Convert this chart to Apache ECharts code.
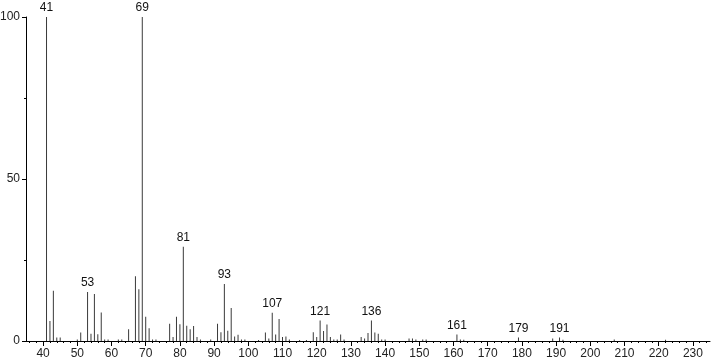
<!DOCTYPE html>
<html>
<head>
<meta charset="utf-8">
<script src="https://cdn.jsdelivr.net/npm/echarts@6/dist/echarts.min.js"></script>
<style>
html,body{margin:0;padding:0;background:#fff;}
#chart{width:711px;height:363px;}
</style>
</head>
<body>
<div id="chart"></div>
<script>
// m/z values and relative intensities
var mz = [41,42,43,44,45,50,51,53,54,55,56,57,58,59,62,63,65,67,68,69,70,71,72,73,77,78,79,80,81,82,83,84,85,86,89,
          91,92,93,94,95,96,97,98,99,103,105,106,107,108,109,110,111,112,115,117,119,120,121,122,123,124,125,126,127,128,
          133,134,135,136,137,138,139,140,147,148,149,151,152,161,162,163,179,189,191,192,207,222];
var intensity = [100,6.2,15.5,1.1,1.1,0.5,2.6,15.1,2.2,14.5,2.1,8.8,0.5,0.5,0.5,0.5,3.6,20,16,100,7.5,3.9,0.5,0.5,5.3,1.2,7.5,5.2,29.1,4.7,3.6,4.6,1.2,0.5,0.5,
          5.3,2.7,17.6,3.2,10.2,1.4,1.9,0.5,0.5,0.3,2.6,0.8,8.7,2.0,6.8,1.2,1.4,0.5,0.3,0.3,2.7,1.2,6.3,3.1,5.1,1.2,0.5,0.5,2.0,0.5,
          1.2,0.8,2.5,6.3,2.6,2.2,0.5,0.5,0.8,0.8,0.5,0.5,0.5,2.0,0.5,0.4,1.1,0.8,1.1,0.4,0.5,0.4];
var labeledPeaks = [41,53,69,81,93,107,121,136,161,179,191];
var xTickValues = [40,50,60,70,80,90,100,110,120,130,140,150,160,170,180,190,200,210,220,230];
var yTickValues = [0,50,100];

var minorX = [];
for (var v = 36; v <= 234; v += 2) { if (v % 10 !== 0) minorX.push(v); }

var data = mz.map(function(m, i){ return [m, intensity[i]]; });

var chart = echarts.init(document.getElementById('chart'));
var font = 'Liberation Sans';
chart.setOption({
  animation: false,
  backgroundColor: '#fff',
  grid: {left: 26, right: 1, top: 17, bottom: 22, containLabel: false, outerBoundsMode: 'none'},
  xAxis: [{
    type: 'value', min: 35, max: 235,
    axisLine: {show: true, lineStyle: {color: '#000', width: 1}},
    axisTick: {show: true, customValues: xTickValues, length: 5, lineStyle: {color: '#000'}},
    axisLabel: {show: true, customValues: xTickValues, margin: 7, color: '#222', fontSize: 12, fontFamily: font},
    splitLine: {show: false}
  }, {
    type: 'value', min: 35, max: 235, gridIndex: 0, position: 'bottom',
    axisLine: {show: false},
    axisTick: {show: true, customValues: minorX, length: 2, lineStyle: {color: '#000'}},
    axisLabel: {show: false},
    splitLine: {show: false}
  }],
  yAxis: {
    type: 'value', min: 0, max: 100, interval: 50,
    axisLine: {show: true, lineStyle: {color: '#000', width: 1}},
    axisTick: {show: true, length: 4, lineStyle: {color: '#000'}},
    minorTick: {show: true, splitNumber: 2, length: 2, lineStyle: {color: '#000'}},
    axisLabel: {margin: 6, color: '#222', fontSize: 12, fontFamily: font},
    splitLine: {show: false}
  },
  series: [{
    type: 'bar',
    xAxisIndex: 0,
    data: data,
    barWidth: 1,
    itemStyle: {color: '#3a3a3a'},
    label: {
      show: true, position: 'top', distance: 3,
      color: '#111', fontSize: 12, fontFamily: font,
      formatter: function(p){ return labeledPeaks.indexOf(p.value[0]) >= 0 ? String(p.value[0]) : ''; }
    }
  }]
});
</script>
</body>
</html>
